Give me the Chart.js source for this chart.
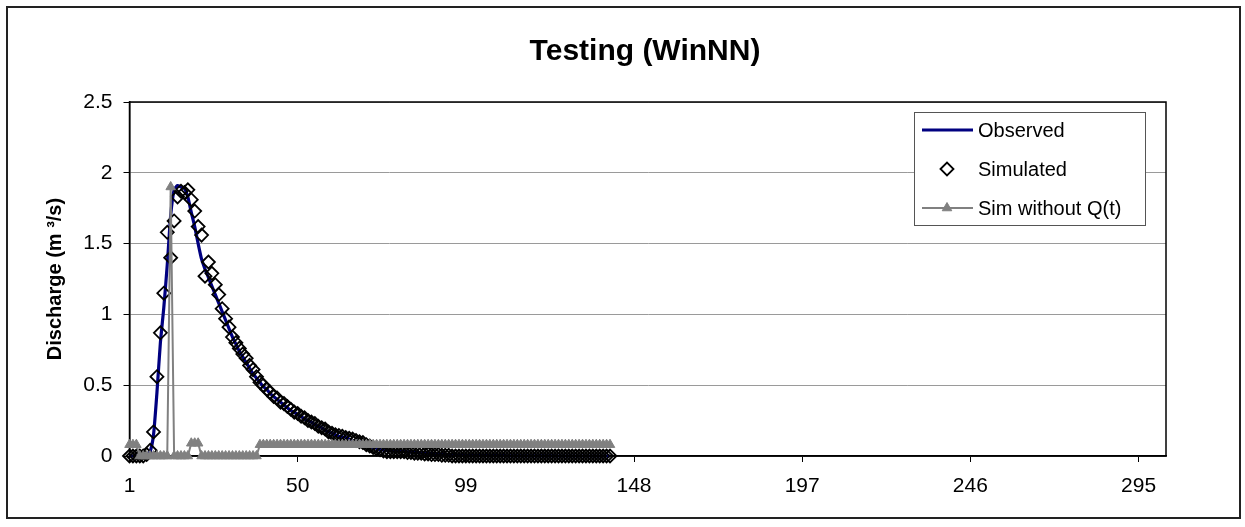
<!DOCTYPE html>
<html>
<head>
<meta charset="utf-8">
<title>Testing (WinNN)</title>
<script src="https://cdn.jsdelivr.net/npm/chart.js@4.4.1/dist/chart.umd.min.js"></script>
<style>
  html, body { margin: 0; padding: 0; background: #fff; }
  #wrap { width: 1245px; height: 527px; }
</style>
</head>
<body>
<div id="wrap"><canvas id="dischargeChart" width="1245" height="527"></canvas></div>
<script>
// time steps 1..303 on the category axis, labelled every 49 steps
const categories = Array.from({ length: 303 }, (_, i) => String(i + 1));
const tickLabels = ['1', '50', '99', '148', '197', '246', '295'];

// observed discharge (m3/s), steps 1..141
const observed = [
  0, 0, 0, 0, 0, 0.01, 0.03, 0.15, 0.45, 0.8,
  1.05, 1.35, 1.7, 1.88, 1.91, 1.9, 1.89, 1.83, 1.72, 1.62,
  1.5, 1.39, 1.32, 1.26, 1.2, 1.14, 1.08, 1.02, 0.96, 0.9,
  0.84, 0.79, 0.74, 0.7, 0.66, 0.62, 0.58, 0.55, 0.52, 0.49,
  0.47, 0.44, 0.42, 0.4, 0.38, 0.36, 0.34, 0.32, 0.31, 0.29,
  0.28, 0.26, 0.25, 0.24, 0.22, 0.21, 0.2, 0.18, 0.17, 0.16,
  0.15, 0.14, 0.135, 0.13, 0.12, 0.11, 0.105, 0.1, 0.09, 0.08,
  0.07, 0.06, 0.055, 0.045, 0.042, 0.04, 0.038, 0.036, 0.035, 0.034,
  0.032, 0.03, 0.028, 0.027, 0.025, 0.023, 0.021, 0.019, 0.017, 0.015,
  0.014, 0.012, 0.011, 0.01, 0.008, 0.007, 0.006, 0.005, 0.004, 0.003,
  0.002, 0.002, 0.002, 0.002, 0.002, 0.002, 0.002, 0.002, 0.002, 0.002,
  0.001, 0.001, 0.001, 0.001, 0.001, 0.001, 0.001, 0.001, 0.001, 0.001,
  0.001, 0.001, 0.001, 0.001, 0.001, 0, 0, 0, 0, 0,
  0, 0, 0, 0, 0, 0, 0, 0, 0, 0,
  0
];

// WinNN simulation
const simulated = [
  0, 0, 0, 0, 0, 0.01, 0.04, 0.17, 0.56, 0.87,
  1.15, 1.58, 1.4, 1.66, 1.83, 1.87, 1.86, 1.88, 1.81, 1.73,
  1.62, 1.56, 1.27, 1.37, 1.29, 1.21, 1.14, 1.04, 0.97, 0.91,
  0.84, 0.8, 0.76, 0.72, 0.69, 0.64, 0.61, 0.56, 0.52, 0.5,
  0.47, 0.45, 0.42, 0.41, 0.38, 0.37, 0.35, 0.33, 0.31, 0.3,
  0.28, 0.27, 0.25, 0.24, 0.23, 0.21, 0.2, 0.19, 0.17, 0.16,
  0.15, 0.145, 0.14, 0.13, 0.125, 0.12, 0.11, 0.1, 0.095, 0.08,
  0.07, 0.06, 0.05, 0.045, 0.035, 0.03, 0.03, 0.03, 0.03, 0.03,
  0.03, 0.025, 0.025, 0.02, 0.02, 0.02, 0.015, 0.015, 0.01, 0.01,
  0.01, 0.005, 0.005, 0.005, 0, 0, 0, 0, 0, 0,
  0, 0, 0, 0, 0, 0, 0, 0, 0, 0,
  0, 0, 0, 0, 0, 0, 0, 0, 0, 0,
  0, 0, 0, 0, 0, 0, 0, 0, 0, 0,
  0, 0, 0, 0, 0, 0, 0, 0, 0, 0,
  0
];

// simulation without the Q(t) input
const simNoQ = [
  0.08, 0.08, 0.08, 0, 0, 0, 0, 0, 0, 0,
  0, 0, 1.9, 0, 0, 0, 0, 0, 0.09, 0.09,
  0.09, 0, 0, 0, 0, 0, 0, 0, 0, 0,
  0, 0, 0, 0, 0, 0, 0, 0, 0.08, 0.08,
  0.08, 0.08, 0.08, 0.08, 0.08, 0.08, 0.08, 0.08, 0.08, 0.08,
  0.08, 0.08, 0.08, 0.08, 0.08, 0.08, 0.08, 0.08, 0.08, 0.08,
  0.08, 0.08, 0.08, 0.08, 0.08, 0.08, 0.08, 0.08, 0.08, 0.08,
  0.08, 0.08, 0.08, 0.08, 0.08, 0.08, 0.08, 0.08, 0.08, 0.08,
  0.08, 0.08, 0.08, 0.08, 0.08, 0.08, 0.08, 0.08, 0.08, 0.08,
  0.08, 0.08, 0.08, 0.08, 0.08, 0.08, 0.08, 0.08, 0.08, 0.08,
  0.08, 0.08, 0.08, 0.08, 0.08, 0.08, 0.08, 0.08, 0.08, 0.08,
  0.08, 0.08, 0.08, 0.08, 0.08, 0.08, 0.08, 0.08, 0.08, 0.08,
  0.08, 0.08, 0.08, 0.08, 0.08, 0.08, 0.08, 0.08, 0.08, 0.08,
  0.08, 0.08, 0.08, 0.08, 0.08, 0.08, 0.08, 0.08, 0.08, 0.08,
  0.08
];

const FONT = "'Liberation Sans', Arial, sans-serif";

// white background, outer frame, plot frame and Excel-style legend box
const excelLook = {
  id: 'excelLook',
  beforeDraw(chart) {
    const ctx = chart.ctx;
    ctx.save();
    ctx.fillStyle = '#fff';
    ctx.fillRect(0, 0, chart.width, chart.height);
    ctx.restore();
  },
  beforeDatasetsDraw(chart) {
    const { ctx, chartArea: a } = chart;
    ctx.save();
    ctx.strokeStyle = '#000';
    ctx.lineWidth = 1.5;
    ctx.strokeRect(a.left, a.top, a.right - a.left, a.bottom - a.top);
    ctx.restore();
  },
  afterDraw(chart) {
    const ctx = chart.ctx;
    ctx.save();
    // chart border
    ctx.strokeStyle = '#222';
    ctx.lineWidth = 2;
    ctx.strokeRect(7, 7, 1233, 511);

    // legend
    const bx = 914, by = 112, bw = 231, bh = 113;
    ctx.fillStyle = '#fff';
    ctx.fillRect(bx, by, bw, bh);
    ctx.strokeStyle = '#555';
    ctx.lineWidth = 1;
    ctx.strokeRect(bx + 0.5, by + 0.5, bw, bh);

    ctx.font = '20px ' + FONT;
    ctx.textBaseline = 'middle';
    ctx.textAlign = 'left';
    chart.data.datasets.forEach((ds, i) => {
      const y = 130 + i * 39;
      const mid = 947;
      if (ds.showLine !== false) {
        ctx.strokeStyle = ds.borderColor;
        ctx.lineWidth = ds.borderWidth;
        ctx.beginPath();
        ctx.moveTo(922, y);
        ctx.lineTo(973, y);
        ctx.stroke();
      }
      if (ds.pointRadius > 0) {
        ctx.fillStyle = ds.pointBackgroundColor;
        ctx.strokeStyle = ds.pointBorderColor;
        ctx.lineWidth = ds.pointBorderWidth;
        Chart.helpers.drawPoint(ctx, {
          pointStyle: ds.pointStyle,
          radius: ds.pointRadius,
          rotation: 0,
          borderWidth: ds.pointBorderWidth
        }, mid, y);
      }
      ctx.fillStyle = '#000';
      ctx.fillText(ds.label, 978, y + 1);
    });
    ctx.restore();
  }
};

new Chart(document.getElementById('dischargeChart'), {
  type: 'line',
  data: {
    labels: categories,
    datasets: [
      {
        label: 'Observed',
        data: observed,
        borderColor: '#000080',
        borderWidth: 3.2,
        pointRadius: 0,
        tension: 0.2,
        order: 2,
        clip: false
      },
      {
        label: 'Simulated',
        data: simulated,
        showLine: false,
        pointStyle: 'rectRot',
        pointRadius: 6.5,
        pointBorderWidth: 1.8,
        pointBorderColor: '#000',
        pointBackgroundColor: 'rgba(255,255,255,0)',
        borderColor: '#000',
        order: 1,
        clip: false
      },
      {
        label: 'Sim without Q(t)',
        data: simNoQ,
        borderColor: '#808080',
        borderWidth: 2,
        pointStyle: 'triangle',
        pointRadius: 5.5,
        pointBorderWidth: 1,
        pointBorderColor: '#808080',
        pointBackgroundColor: '#808080',
        order: 0,
        clip: false
      }
    ]
  },
  options: {
    responsive: false,
    animation: false,
    devicePixelRatio: 1,
    layout: { padding: { left: 45, right: 0, top: 0, bottom: 0 } },
    plugins: {
      legend: { display: false },
      tooltip: { enabled: false },
      title: {
        display: true,
        text: 'Testing (WinNN)',
        color: '#000',
        font: { family: FONT, size: 30, weight: 'bold', lineHeight: 1.2 },
        padding: { top: 34, bottom: 32 }
      }
    },
    scales: {
      x: {
        type: 'category',
        offset: false,
        grid: {
          drawOnChartArea: false,
          tickLength: 6,
          tickColor: ctx => tickLabels.includes(categories[ctx.index]) ? '#000' : 'rgba(0,0,0,0)'
        },
        border: { color: '#000', width: 1.5 },
        ticks: {
          autoSkip: false,
          maxRotation: 0,
          padding: 12,
          color: '#000',
          font: { family: FONT, size: 21 },
          callback(value) {
            const l = this.getLabelForValue(value);
            return tickLabels.includes(l) ? l : '';
          }
        },
        afterFit(scale) { scale.height = 71; }
      },
      y: {
        min: 0,
        max: 2.5,
        ticks: {
          stepSize: 0.5,
          padding: 11,
          color: '#000',
          font: { family: FONT, size: 21 },
          callback: value => String(value)
        },
        grid: { color: '#9a9a9a', lineWidth: 1, tickLength: 6, tickColor: '#000' },
        border: { color: '#000', width: 1.5 },
        title: {
          display: true,
          text: 'Discharge (m ³/s)',
          color: '#000',
          font: { family: FONT, size: 20, weight: 'bold', lineHeight: 1 },
          padding: { top: 0, bottom: 0 }
        },
        afterFit(scale) { scale.width = 84.5; }
      },
      yRight: {
        position: 'right',
        display: true,
        grid: { display: false },
        border: { display: false },
        ticks: { display: false },
        afterFit(scale) { scale.width = 79; }
      }
    }
  },
  plugins: [excelLook]
});
</script>
</body>
</html>
